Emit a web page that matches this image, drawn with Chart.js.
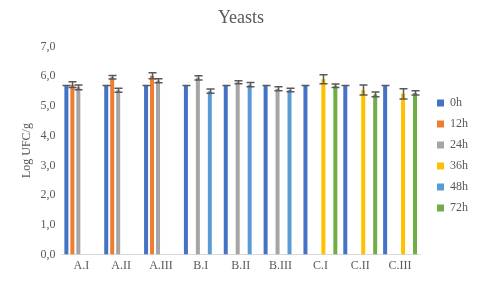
<!DOCTYPE html>
<html>
<head>
<meta charset="utf-8">
<script src="https://cdn.jsdelivr.net/npm/chart.js@4/dist/chart.umd.min.js"></script>
<style>
html,body{margin:0;padding:0;background:#fff;}
#wrap{width:480px;height:283px;position:relative;}
</style>
</head>
<body>
<div id="wrap"><canvas id="c" width="480" height="283"></canvas></div>
<script>
const categories = ['A.I','A.II','A.III','B.I','B.II','B.III','C.I','C.II','C.III'];
const seriesNames = ['0h','12h','24h','36h','48h','72h'];
const h0  = [5.69,5.69,5.69,5.69,5.69,5.69,5.69,5.69,5.69];
const e0  = [0,0,0,0,0,0,0,0,0];
const h12 = [5.72,5.97,6.02,null,null,null,null,null,null];
const e12 = [0.10,0.06,0.10,null,null,null,null,null,null];
const h24 = [5.63,5.53,5.85,5.95,5.80,5.58,null,null,null];
const e24 = [0.08,0.07,0.07,0.07,0.05,0.07,null,null,null];
const h36 = [null,null,null,null,null,null,5.90,5.54,5.41];
const e36 = [null,null,null,null,null,null,0.15,0.17,0.17];
const h48 = [null,null,null,5.50,5.72,5.54,null,null,null];
const e48 = [null,null,null,0.07,0.07,0.06,null,null,null];
const h72 = [null,null,null,null,null,null,5.68,5.39,5.44];
const e72 = [null,null,null,null,null,null,0.06,0.08,0.07];
const yTicks = [0,1,2,3,4,5,6,7];

const colors = ['#4472C4','#ED7D31','#A5A5A5','#FFC000','#5B9BD5','#70AD47'];
const values = [h0,h12,h24,h36,h48,h72];
const errors = [e0,e12,e24,e36,e48,e72];
const FONT = "'Liberation Serif', 'Times New Roman', serif";
const TXT = '#595959';

const errorBars = {
  id: 'errorBars',
  afterDatasetsDraw(chart) {
    const ctx = chart.ctx;
    const ys = chart.scales.y;
    ctx.save();
    ctx.strokeStyle = '#595959';
    ctx.lineWidth = 1.5;
    chart.data.datasets.forEach((ds, i) => {
      const meta = chart.getDatasetMeta(i);
      meta.data.forEach((el, j) => {
        const v = ds.data[j];
        const e = ds.errors[j];
        if (v == null || e == null) return;
        const x = Math.round(el.x) + 0.5;
        const yt = ys.getPixelForValue(v + e);
        const yb = ys.getPixelForValue(v - e);
        ctx.beginPath();
        ctx.moveTo(x, yt); ctx.lineTo(x, yb);
        ctx.moveTo(x - 4, yt); ctx.lineTo(x + 4, yt);
        ctx.moveTo(x - 4, yb); ctx.lineTo(x + 4, yb);
        ctx.stroke();
      });
    });
    ctx.restore();
  }
};

const legendShift = {
  id: 'legendShift',
  afterLayout(chart) {
    const lg = chart.legend;
    if (!lg) return;
    lg.left += 8; lg.right += 8;
    lg.top += 15; lg.bottom += 15;
  }
};

new Chart(document.getElementById('c'), {
  type: 'bar',
  data: {
    labels: categories,
    datasets: seriesNames.map((n, i) => ({
      label: n,
      data: values[i],
      errors: errors[i],
      backgroundColor: colors[i],
      borderWidth: 0,
      categoryPercentage: 0.9,
      barPercentage: 0.67
    }))
  },
  options: {
    responsive: false,
    animation: false,
    devicePixelRatio: 1,
    layout: { padding: { left: 12, right: 10, top: 4, bottom: 6 } },
    plugins: {
      title: {
        display: true,
        text: 'Yeasts',
        color: TXT,
        font: { family: FONT, size: 18, weight: 'normal' },
        padding: { top: 3, bottom: 18 }
      },
      legend: {
        position: 'right',
        align: 'center',
        labels: {
          color: TXT,
          font: { family: FONT, size: 12 },
          boxWidth: 7,
          boxHeight: 7,
          padding: 9
        }
      },
      tooltip: { enabled: false }
    },
    scales: {
      x: {
        grid: { display: false, drawTicks: false },
        border: { display: true, color: '#D9D9D9', width: 1 },
        ticks: { color: TXT, font: { family: FONT, size: 12 }, padding: 4, maxRotation: 0 }
      },
      y: {
        min: 0, max: 7,
        afterBuildTicks(scale) { scale.ticks = yTicks.map(v => ({ value: v })); },
        grid: { display: false, drawTicks: false },
        border: { display: false },
        ticks: {
          color: TXT,
          font: { family: FONT, size: 12 },
          padding: 6,
          callback: v => v.toFixed(1).replace('.', ',')
        },
        title: {
          display: true,
          text: 'Log UFC/g',
          color: TXT,
          font: { family: FONT, size: 12 },
          padding: { top: 8, bottom: 0 }
        }
      }
    }
  },
  plugins: [errorBars, legendShift]
});
</script>
</body>
</html>
